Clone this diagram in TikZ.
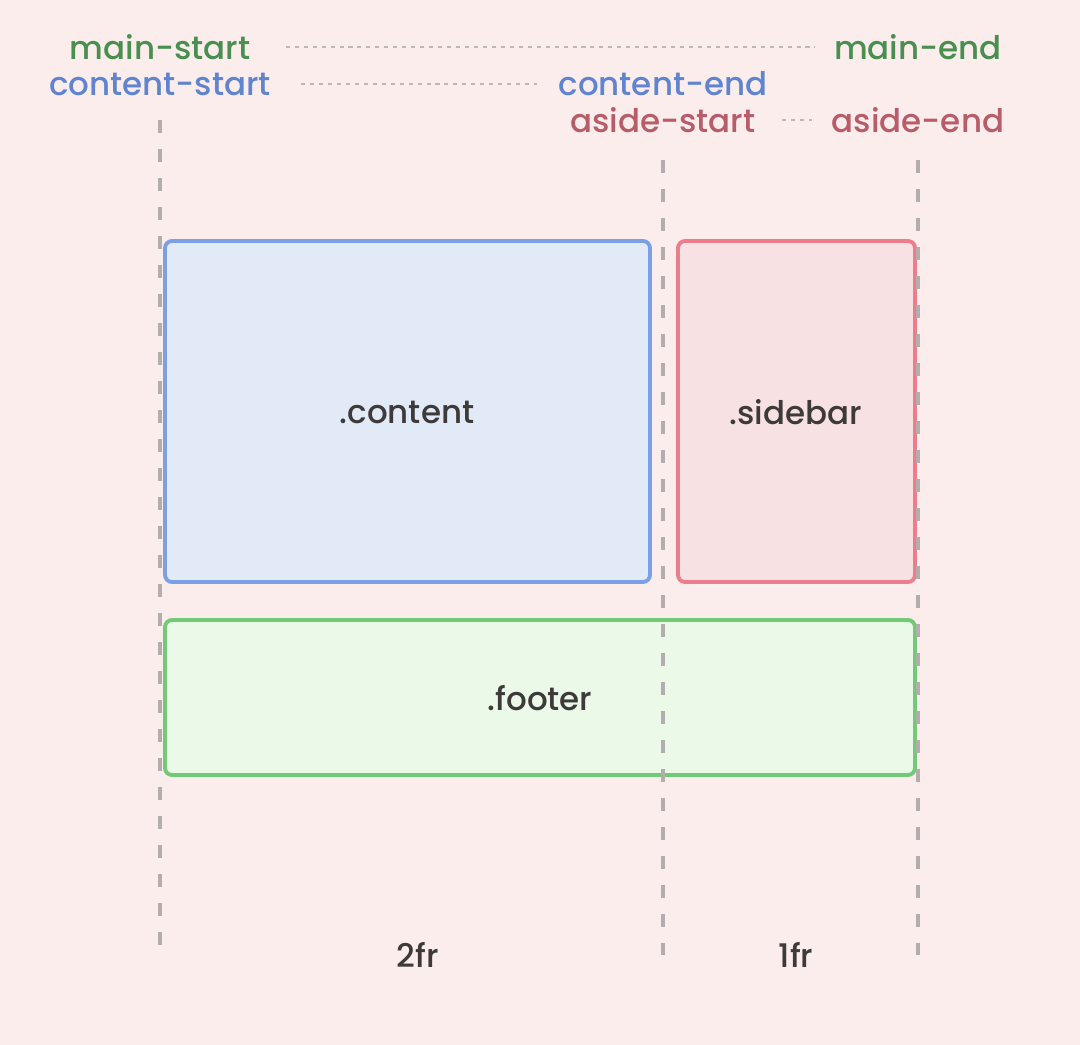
\documentclass[tikz,border=0pt]{standalone}
\usepackage{fontspec}
\setmainfont{Poppins Medium}
\usetikzlibrary{calc}

\definecolor{bgpink}{RGB}{252,237,237}
\definecolor{gridgray}{RGB}{172,166,166}
\definecolor{textdark}{RGB}{62,58,58}
\definecolor{maingreen}{RGB}{73,143,80}
\definecolor{contentblue}{RGB}{96,132,208}
\definecolor{asidered}{RGB}{184,92,106}
\definecolor{boxblue}{RGB}{124,160,230}
\definecolor{fillblue}{RGB}{227,234,247}
\definecolor{boxred}{RGB}{236,126,140}
\definecolor{fillred}{RGB}{247,225,227}
\definecolor{boxgreen}{RGB}{112,202,118}
\definecolor{fillgreen}{RGB}{234,249,232}

\tikzset{
	linename/.style={font=\fontsize{18.5}{20}\selectfont,inner sep=0pt},
	areabox/.style={line width=2.2pt,rounded corners=4pt},
	arealabel/.style={font=\fontsize{18.5}{20}\selectfont,text=textdark,inner sep=0pt},
	gridline/.style={gridgray!92,line width=1.8pt,dash pattern=on 7.5pt off 9pt},
	guide/.style={gridgray!80,line width=1.4pt,dash pattern=on 2.3pt off 2.8pt}
}

\begin{document}
\begin{tikzpicture}[x=0.02cm,y=-0.02cm]
	\fill[bgpink] (0,0) rectangle (1080,1045);
	\useasboundingbox (0,0) rectangle (1080,1045);
	% grid areas
	\draw[areabox,draw=boxblue,fill=fillblue] (165,241) rectangle (650,582);
	\draw[areabox,draw=boxred,fill=fillred] (678,241) rectangle (915,582);
	\draw[areabox,draw=boxgreen,fill=fillgreen] (165,620) rectangle (915,775);
	\draw (407,412) node[arealabel] (content) {.content};
	\draw (796,412) node[arealabel] (sidebar) {.sidebar};
	\draw (540,698) node[arealabel] (footer) {.footer};
	% column lines
	\coordinate (l1top) at (160,120); \coordinate (l1bot) at (160,955);
	\coordinate (l2top) at (663,160); \coordinate (l2bot) at (663,955);
	\coordinate (l3top) at (918,160); \coordinate (l3bot) at (918,955);
	\draw[gridline] (l1top) -- (l1bot);
	\draw[gridline] (l2top) -- (l2bot);
	\draw[gridline] (l3top) -- (l3bot);
	% line names
	\draw (160,47) node[linename,text=maingreen] (mainstart) {main-start};
	\draw (918,47) node[linename,text=maingreen] (mainend) {main-end};
	\draw (160,84) node[linename,text=contentblue] (contentstart) {content-start};
	\draw (663,84) node[linename,text=contentblue] (contentend) {content-end};
	\draw (663,120) node[linename,text=asidered] (asidestart) {aside-start};
	\draw (918,120) node[linename,text=asidered] (asideend) {aside-end};
	\draw[guide,shorten <=20pt,shorten >=11pt] (mainstart.east) -- (mainstart.east-|mainend.west);
	\draw[guide,shorten <=17pt,shorten >=12pt] (contentstart.east) -- (contentstart.east-|contentend.west);
	\draw[guide,shorten <=15pt,shorten >=11pt] (asidestart.east) -- (asidestart.east-|asideend.west);
	% track sizes
	\draw (418,955) node[arealabel] (twofr) {2fr};
	\draw (796,955) node[arealabel] (onefr) {1fr};
\end{tikzpicture}
\end{document}
